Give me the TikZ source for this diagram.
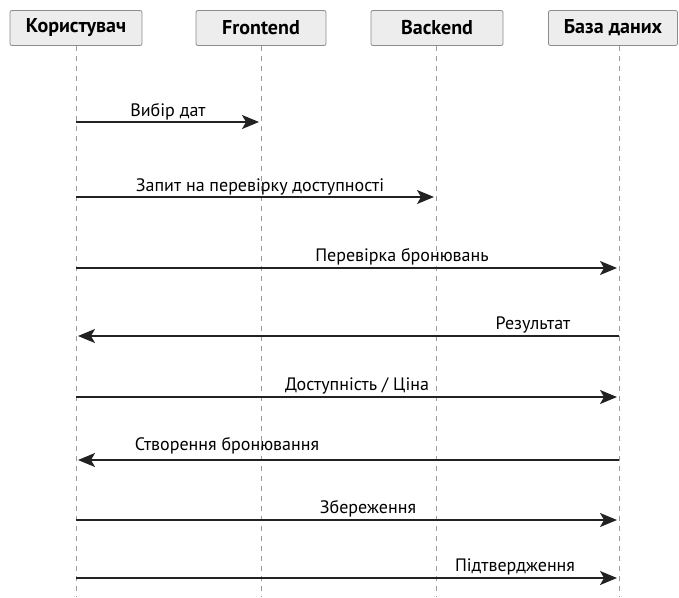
\documentclass[tikz,border=0pt]{standalone}
\usepackage{fontspec}
\setmainfont{PT Sans}
\usetikzlibrary{arrows.meta}
\definecolor{boxfill}{HTML}{EDEDED}
\definecolor{boxline}{HTML}{8C8C8C}
\definecolor{lifeline}{HTML}{9A9A9A}
\definecolor{msgline}{HTML}{222222}
\tikzset{
  actor/.style={draw=boxline, fill=boxfill, rounded corners=2pt, line width=0.8pt,
    minimum height=35pt, inner xsep=0pt, font=\fontsize{20}{22}\selectfont\bfseries},
  life/.style={draw=lifeline, line width=1pt, dash pattern=on 5pt off 5pt},
  msg/.style={draw=msgline, line width=1.4pt, shorten >=2pt,
    -{Stealth[length=17pt,width=14pt,inset=4pt]}},
  msglabel/.style={font=\fontsize{18}{20}\selectfont, text=black, inner sep=0pt, anchor=base}
}
\begin{document}
\begin{tikzpicture}[x=1pt,y=-1pt]
\useasboundingbox (0,0) rectangle (679,597);
% participants
\node[actor, minimum width=132pt] (u) at (76,28) {Користувач};
\node[actor, minimum width=130pt] (f) at (261,28) {Frontend};
\node[actor, minimum width=132pt] (b) at (437,28) {Backend};
\node[actor, minimum width=129pt] (d) at (613,28) {База даних};
% lifeline ends
\coordinate (ue) at (76,597);
\coordinate (fe) at (261,597);
\coordinate (be) at (436,597);
\coordinate (de) at (619,597);
\draw[life] (u.south) -- (ue);
\draw[life] (f.south) -- (fe);
\draw[life] (b.south -| be) -- (be);
\draw[life] (d.south -| de) -- (de);
% message anchors on the lifelines
\foreach \n/\y in {1/122,2/197,3/268,4/336,5/397,6/460,7/520,8/578}{
  \coordinate (u\n) at (76,\y);
  \coordinate (f\n) at (261,\y);
  \coordinate (b\n) at (436,\y);
  \coordinate (d\n) at (619,\y);
}
% messages
\draw[msg] (u1) -- (f1);
\node[msglabel] (l1) at (168,116) {Вибір дат};
\draw[msg] (u2) -- (b2);
\node[msglabel] (l2) at (260,191) {Запит на перевірку доступності};
\draw[msg] (u3) -- (d3);
\node[msglabel] (l3) at (402,261) {Перевірка бронювань};
\draw[msg] (d4) -- (u4);
\node[msglabel] (l4) at (533,329) {Результат};
\draw[msg] (u5) -- (d5);
\node[msglabel] (l5) at (357,390) {Доступність / Ціна};
\draw[msg] (d6) -- (u6);
\node[msglabel] (l6) at (227,450) {Створення бронювання};
\draw[msg] (u7) -- (d7);
\node[msglabel] (l7) at (368,513) {Збереження};
\draw[msg] (u8) -- (d8);
\node[msglabel] (l8) at (515,571) {Підтвердження};
\end{tikzpicture}
\end{document}
